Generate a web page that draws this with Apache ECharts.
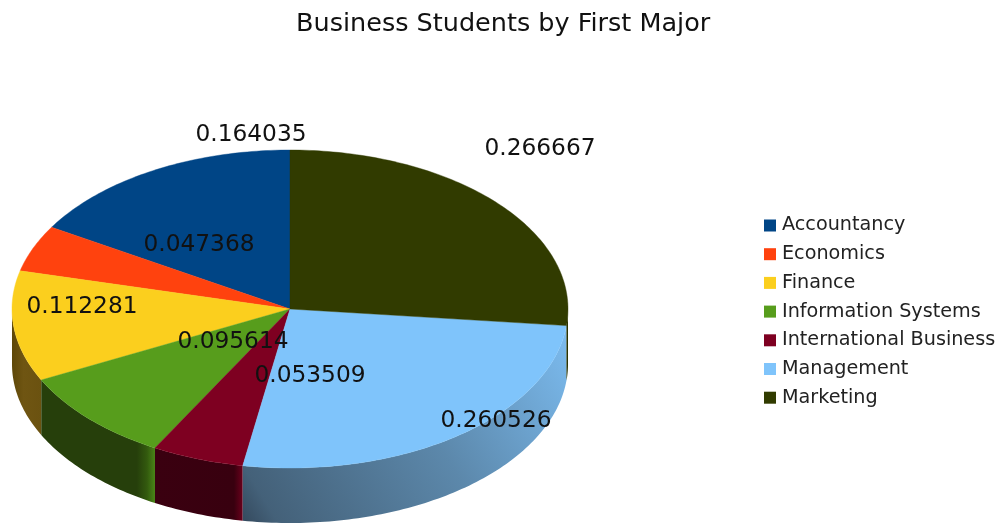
<!DOCTYPE html>
<html>
<head>
<meta charset="utf-8">
<title>Business Students by First Major</title>
<script src="https://cdn.jsdelivr.net/npm/echarts@6/dist/echarts.min.js"></script>
<style>
    html, body { margin: 0; padding: 0; background: #fff; }
    #chart { width: 1002px; height: 523px; }
</style>
</head>
<body>
<div id="chart"></div>
<script>
const categories = ['Accountancy', 'Economics', 'Finance', 'Information Systems', 'International Business', 'Management', 'Marketing'];
const shares = [0.164035, 0.047368, 0.112281, 0.095614, 0.053509, 0.260526, 0.266667];
const shareLabels = ['0.164035', '0.047368', '0.112281', '0.095614', '0.053509', '0.260526', '0.266667'];

const topColors = ['#004586', '#ff420e', '#fbcf1e', '#579d1c', '#7e0021', '#7fc4fb', '#313b00'];

// side wall shading, [offset, colour] pairs
const sideGradients = [
    null,
    null,
    { x: 0, y: 0, x2: 1, y2: 0, stops: [[0, '#5e4708'], [0.4, '#6f5512'], [1, '#6b5210']] },
    { x: 0, y: 0, x2: 1, y2: 0, stops: [[0, '#263f0b'], [0.84, '#263f0b'], [0.93, '#335a0e'], [1, '#4a8517']] },
    { x: 0, y: 0, x2: 1, y2: 0, stops: [[0, '#3a0010'], [0.9, '#38000f'], [1, '#6a001c']] },
    { x: 0, y: 1, x2: 1, y2: 0, stops: [[0, '#34495d'], [0.08, '#446179'], [0.55, '#5c88ab'], [1, '#7cbcf0']] },
    { x: 0, y: 0, x2: 1, y2: 0, stops: [[0, '#2a3300'], [1, '#2a3300']] }
];

// where the renderer put each value label (centre, px)
const labelAnchors = [[251, 135], [199, 245], [82, 307], [233, 342], [310, 376], [496, 421], [540, 149]];

const cx = 290, cy = 309, rx = 278, ry = 159, depth = 55;
const fontFamily = '"DejaVu Sans", sans-serif';

function rimPoint(deg, dy) {
    let a = deg / 180 * Math.PI;
    return [cx + rx * Math.sin(a), cy - ry * Math.cos(a) + dy];
}

function arcPoints(from, to, dy) {
    let pts = [];
    let n = Math.max(2, Math.ceil(Math.abs(to - from)));
    for (let i = 0; i <= n; i++) {
        pts.push(rimPoint(from + (to - from) * i / n, dy));
    }
    return pts;
}

function sliceRange(idx) {
    let before = shares.slice(0, idx).reduce((a, b) => a + b, 0);
    let total = shares.reduce((a, b) => a + b, 0);
    let end = 360 * (1 - before / total);
    return [end - 360 * shares[idx] / total, end];
}

function sideFill(idx) {
    let g = sideGradients[idx];
    return new echarts.graphic.LinearGradient(g.x, g.y, g.x2, g.y2,
        g.stops.map(s => ({ offset: s[0], color: s[1] })));
}

function renderSlice(idx) {
    return (params, api) => {
        let [start, end] = sliceRange(idx);
        let children = [];
        let from = Math.max(start, 90), to = Math.min(end, 270);
        if (to > from && sideGradients[idx]) {
            let top = arcPoints(from, to, 0);
            let bottom = arcPoints(to, from, depth);
            children.push({
                type: 'polygon',
                shape: { points: top.concat(bottom) },
                style: { fill: sideFill(idx) }
            });
        }
        children.push({
            type: 'polygon',
            shape: { points: [[cx, cy]].concat(arcPoints(start, end, 0)) },
            style: { fill: topColors[idx], stroke: topColors[idx], lineWidth: 0.4 }
        });
        return { type: 'group', children: children };
    };
}

function renderLabel(params, api) {
    let idx = params.dataIndex;
    return {
        type: 'text',
        z2: 100,
        style: {
            x: labelAnchors[idx][0],
            y: labelAnchors[idx][1],
            text: shareLabels[idx],
            fill: '#111',
            font: '23.3px ' + fontFamily,
            align: 'center',
            verticalAlign: 'middle'
        }
    };
}

let series = categories.map((name, idx) => ({
    name: name,
    type: 'custom',
    coordinateSystem: 'none',
    renderItem: renderSlice(idx),
    itemStyle: { color: topColors[idx] },
    data: [[shares[idx]]],
    silent: true
}));

series.push({
    name: 'labels',
    type: 'custom',
    coordinateSystem: 'none',
    renderItem: renderLabel,
    z: 5,
    data: shares.map(v => [v]),
    silent: true
});

let chart = echarts.init(document.getElementById('chart'), null, { renderer: 'canvas' });
chart.setOption({
    animation: false,
    backgroundColor: '#fff',
    title: {
        text: 'Business Students by First Major',
        left: 291,
        top: 6,
        textStyle: { fontFamily: fontFamily, fontSize: 25.5, fontWeight: 'normal', color: '#111' }
    },
    legend: {
        orient: 'vertical',
        left: 764,
        top: 216,
        data: categories,
        icon: 'rect',
        itemWidth: 12,
        itemHeight: 12,
        itemGap: 9.7,
        padding: 0,
        selectedMode: false,
        textStyle: { fontFamily: fontFamily, fontSize: 19.2, color: '#222', padding: [0, 0, 0, 1] }
    },
    series: series
});
</script>
</body>
</html>
